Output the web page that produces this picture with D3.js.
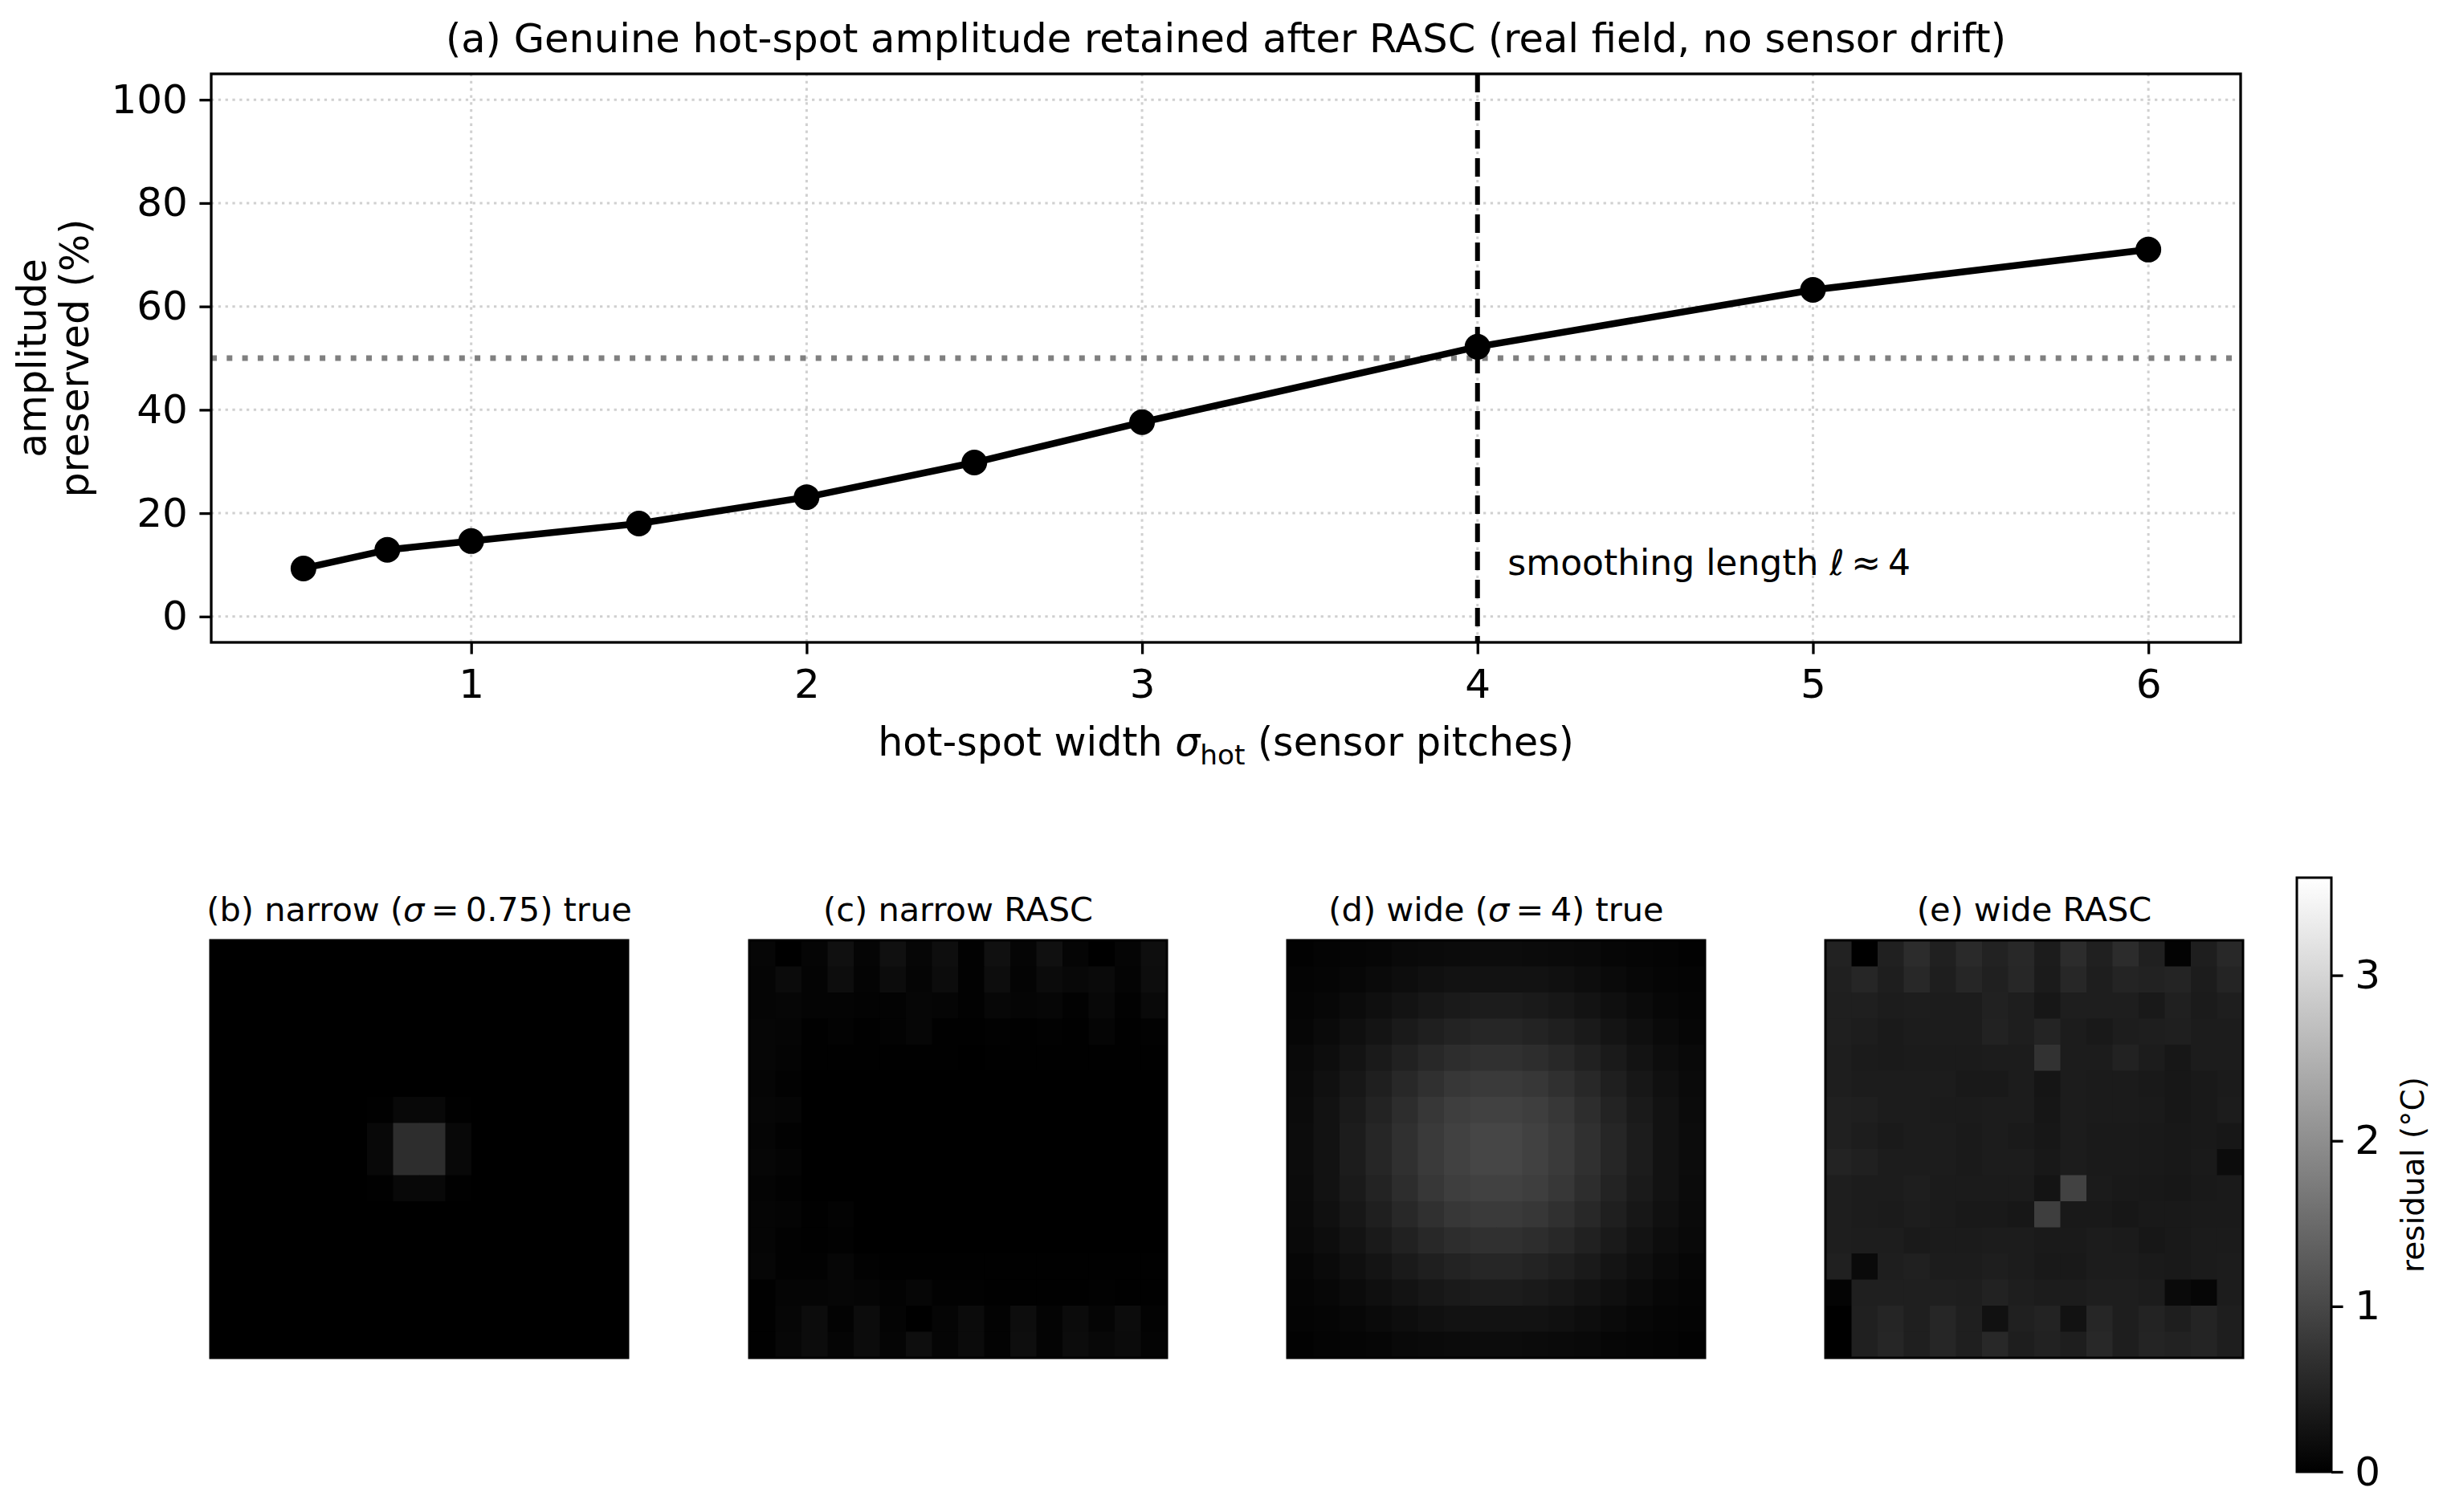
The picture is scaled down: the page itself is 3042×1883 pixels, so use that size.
<!DOCTYPE html>
<html>
<head>
<meta charset="utf-8">
<script src="https://cdn.jsdelivr.net/npm/d3@7"></script>
<style>
body { margin: 0; background: #fff; }
text { font-family: "DejaVu Sans", sans-serif; fill: #000; }
</style>
</head>
<body>
<svg id="fig" width="3042" height="1883"></svg>
<script>
// ---- panel (a) data ----
const sigma_hot = [0.5, 0.75, 1, 1.5, 2, 2.5, 3, 4, 5, 6]
const amplitude_pct = [9.3, 12.9, 14.6, 18.0, 23.1, 29.8, 37.6, 52.2, 63.2, 71.0]
const x_ticks = [1, 2, 3, 4, 5, 6]
const y_ticks = [0, 20, 40, 60, 80, 100]
const half_line = 50
const smoothing_length = 4

// ---- heatmap data (residual, °C), rows top to bottom ----
const cbar_ticks = [0, 1, 2, 3]
const cbar_max = 3.59
const panel_titles = [
    [["(b) narrow ("], ["σ", "i"], ["\u2009=\u20090.75) true"]],
    [["(c) narrow RASC"]],
    [["(d) wide ("], ["σ", "i"], ["\u2009=\u20094) true"]],
    [["(e) wide RASC"]]
]

const narrow_true = [
    [0,0,0,0,0,0,0,0,0,0,0,0,0,0,0,0],
    [0,0,0,0,0,0,0,0,0,0,0,0,0,0,0,0],
    [0,0,0,0,0,0,0,0,0,0,0,0,0,0,0,0],
    [0,0,0,0,0,0,0,0,0,0,0,0,0,0,0,0],
    [0,0,0,0,0,0,0,0,0,0,0,0,0,0,0,0],
    [0,0,0,0,0,0,0,0,0,0,0,0,0,0,0,0],
    [0,0,0,0,0,0,0.02,0.11,0.11,0.02,0,0,0,0,0,0],
    [0,0,0,0,0,0,0.11,0.64,0.64,0.11,0,0,0,0,0,0],
    [0,0,0,0,0,0,0.11,0.64,0.64,0.11,0,0,0,0,0,0],
    [0,0,0,0,0,0,0.02,0.11,0.11,0.02,0,0,0,0,0,0],
    [0,0,0,0,0,0,0,0,0,0,0,0,0,0,0,0],
    [0,0,0,0,0,0,0,0,0,0,0,0,0,0,0,0],
    [0,0,0,0,0,0,0,0,0,0,0,0,0,0,0,0],
    [0,0,0,0,0,0,0,0,0,0,0,0,0,0,0,0],
    [0,0,0,0,0,0,0,0,0,0,0,0,0,0,0,0],
    [0,0,0,0,0,0,0,0,0,0,0,0,0,0,0,0]
]

const narrow_rasc = [
    [0.08,0.00,0.07,0.23,0.07,0.23,0.08,0.20,0.03,0.23,0.07,0.23,0.07,0.00,0.07,0.20],
    [0.07,0.15,0.06,0.18,0.06,0.17,0.07,0.17,0.03,0.18,0.06,0.15,0.11,0.14,0.06,0.18],
    [0.07,0.08,0.06,0.06,0.04,0.04,0.08,0.07,0.03,0.10,0.07,0.08,0.03,0.11,0.03,0.13],
    [0.08,0.07,0.01,0.04,0.01,0.04,0.08,0.01,0.01,0.03,0.01,0.03,0.01,0.07,0.01,0.03],
    [0.08,0.06,0.01,0.01,0.01,0.01,0.01,0.01,0.00,0.01,0.01,0.01,0.01,0.01,0.01,0.01],
    [0.07,0.03,0.00,0.00,0.00,0.00,0.00,0.00,0.00,0.00,0.00,0.00,0.00,0.00,0.00,0.00],
    [0.08,0.07,0.00,0.00,0.00,0.00,0.00,0.00,0.00,0.00,0.00,0.00,0.00,0.00,0.00,0.00],
    [0.07,0.03,0.00,0.00,0.00,0.00,0.00,0.00,0.00,0.00,0.00,0.00,0.00,0.00,0.00,0.00],
    [0.08,0.06,0.00,0.00,0.00,0.00,0.00,0.00,0.00,0.00,0.00,0.00,0.00,0.00,0.00,0.00],
    [0.06,0.03,0.00,0.00,0.00,0.00,0.00,0.00,0.00,0.00,0.00,0.00,0.00,0.00,0.00,0.00],
    [0.07,0.06,0.01,0.04,0.00,0.00,0.00,0.00,0.00,0.00,0.00,0.00,0.00,0.00,0.00,0.00],
    [0.07,0.03,0.01,0.03,0.00,0.00,0.00,0.00,0.00,0.00,0.00,0.00,0.00,0.00,0.00,0.00],
    [0.08,0.03,0.03,0.08,0.03,0.01,0.01,0.01,0.01,0.01,0.01,0.01,0.01,0.01,0.01,0.01],
    [0.01,0.07,0.07,0.08,0.07,0.04,0.08,0.03,0.03,0.01,0.01,0.01,0.01,0.03,0.01,0.01],
    [0.01,0.08,0.17,0.04,0.17,0.06,0.00,0.07,0.15,0.04,0.18,0.06,0.15,0.07,0.17,0.04],
    [0.01,0.10,0.17,0.07,0.17,0.07,0.20,0.07,0.15,0.04,0.20,0.06,0.17,0.11,0.15,0.06]
]

const wide_true = [
    [0.03,0.05,0.07,0.09,0.12,0.14,0.16,0.17,0.17,0.16,0.14,0.12,0.09,0.07,0.05,0.03],
    [0.05,0.07,0.10,0.14,0.18,0.22,0.25,0.26,0.26,0.25,0.22,0.18,0.14,0.10,0.07,0.05],
    [0.07,0.10,0.15,0.21,0.27,0.32,0.36,0.39,0.39,0.36,0.32,0.27,0.21,0.15,0.10,0.07],
    [0.09,0.14,0.21,0.28,0.36,0.44,0.49,0.53,0.53,0.49,0.44,0.36,0.28,0.21,0.14,0.09],
    [0.12,0.18,0.27,0.36,0.47,0.56,0.64,0.68,0.68,0.64,0.56,0.47,0.36,0.27,0.18,0.12],
    [0.14,0.22,0.32,0.44,0.56,0.68,0.77,0.82,0.82,0.77,0.68,0.56,0.44,0.32,0.22,0.14],
    [0.16,0.25,0.36,0.49,0.64,0.77,0.87,0.92,0.92,0.87,0.77,0.64,0.49,0.36,0.25,0.16],
    [0.17,0.26,0.39,0.53,0.68,0.82,0.92,0.98,0.98,0.92,0.82,0.68,0.53,0.39,0.26,0.17],
    [0.17,0.26,0.39,0.53,0.68,0.82,0.92,0.98,0.98,0.92,0.82,0.68,0.53,0.39,0.26,0.17],
    [0.16,0.25,0.36,0.49,0.64,0.77,0.87,0.92,0.92,0.87,0.77,0.64,0.49,0.36,0.25,0.16],
    [0.14,0.22,0.32,0.44,0.56,0.68,0.77,0.82,0.82,0.77,0.68,0.56,0.44,0.32,0.22,0.14],
    [0.12,0.18,0.27,0.36,0.47,0.56,0.64,0.68,0.68,0.64,0.56,0.47,0.36,0.27,0.18,0.12],
    [0.09,0.14,0.21,0.28,0.36,0.44,0.49,0.53,0.53,0.49,0.44,0.36,0.28,0.21,0.14,0.09],
    [0.07,0.10,0.15,0.21,0.27,0.32,0.36,0.39,0.39,0.36,0.32,0.27,0.21,0.15,0.10,0.07],
    [0.05,0.07,0.10,0.14,0.18,0.22,0.25,0.26,0.26,0.25,0.22,0.18,0.14,0.10,0.07,0.05],
    [0.03,0.05,0.07,0.09,0.12,0.14,0.16,0.17,0.17,0.16,0.14,0.12,0.09,0.07,0.05,0.03]
]

const wide_rasc = [
    [0.48,0.00,0.45,0.62,0.45,0.59,0.48,0.56,0.39,0.62,0.45,0.62,0.45,0.04,0.42,0.56],
    [0.45,0.54,0.42,0.56,0.42,0.54,0.45,0.55,0.38,0.55,0.42,0.51,0.48,0.51,0.39,0.51],
    [0.44,0.44,0.39,0.41,0.39,0.39,0.46,0.42,0.32,0.42,0.42,0.42,0.35,0.45,0.38,0.42],
    [0.44,0.41,0.37,0.39,0.39,0.39,0.48,0.42,0.51,0.39,0.35,0.41,0.42,0.44,0.39,0.39],
    [0.42,0.38,0.37,0.38,0.38,0.38,0.39,0.39,0.70,0.39,0.39,0.48,0.39,0.32,0.39,0.39],
    [0.42,0.39,0.39,0.39,0.39,0.35,0.35,0.39,0.30,0.39,0.38,0.38,0.35,0.32,0.35,0.38],
    [0.45,0.44,0.39,0.39,0.38,0.38,0.39,0.39,0.31,0.39,0.38,0.38,0.37,0.32,0.35,0.39],
    [0.45,0.41,0.37,0.39,0.39,0.37,0.39,0.37,0.32,0.39,0.37,0.37,0.35,0.34,0.35,0.32],
    [0.49,0.45,0.39,0.39,0.39,0.37,0.39,0.39,0.34,0.39,0.37,0.37,0.35,0.34,0.37,0.17],
    [0.42,0.39,0.39,0.42,0.38,0.38,0.38,0.38,0.28,0.93,0.38,0.35,0.34,0.32,0.35,0.37],
    [0.42,0.39,0.38,0.41,0.38,0.35,0.35,0.32,0.87,0.35,0.35,0.32,0.35,0.35,0.37,0.37],
    [0.42,0.41,0.41,0.37,0.38,0.38,0.39,0.39,0.37,0.37,0.39,0.38,0.32,0.35,0.38,0.38],
    [0.45,0.14,0.42,0.45,0.39,0.39,0.42,0.39,0.35,0.35,0.39,0.39,0.37,0.35,0.38,0.39],
    [0.06,0.44,0.44,0.44,0.44,0.42,0.48,0.42,0.39,0.39,0.42,0.42,0.39,0.14,0.08,0.39],
    [0.00,0.45,0.52,0.44,0.54,0.44,0.24,0.45,0.49,0.25,0.54,0.42,0.49,0.42,0.51,0.42],
    [0.00,0.45,0.54,0.44,0.54,0.44,0.56,0.42,0.48,0.42,0.56,0.42,0.51,0.48,0.51,0.42]
]

const panels = [narrow_true, narrow_rasc, wide_true, wide_rasc]

// ---- layout ----
const fs = 50
const tick_len = 14.6
const svg = d3.select("#fig")

// write text made of pieces: [string, style] with style "i" italic or "s" subscript
function rich(sel, parts, size) {
    let sub = false
    parts.forEach(p => {
        const t = sel.append("tspan").text(p[0])
        if (p[1] == "i") t.attr("font-style", "italic")
        if (p[1] == "s") {
            t.attr("font-size", size * 0.7).attr("dy", size * 0.22)
            sub = true
        } else if (sub) {
            t.attr("dy", -size * 0.22)
            sub = false
        }
    })
}

// ================= panel (a) =================
const ax = { left: 263, right: 2790, top: 92, bottom: 800 }
const x = d3.scaleLinear().domain([0.225, 6.275]).range([ax.left, ax.right])
const y = d3.scaleLinear().domain([-5, 105]).range([ax.bottom, ax.top])

const gA = svg.append("g")

// grid
gA.selectAll("line.gx").data(x_ticks).join("line")
    .attr("x1", d => x(d)).attr("x2", d => x(d))
    .attr("y1", ax.top).attr("y2", ax.bottom)
    .attr("stroke", "#d0d0d0").attr("stroke-width", 3).attr("stroke-dasharray", "3.3 5.5")
gA.selectAll("line.gy").data(y_ticks).join("line")
    .attr("x1", ax.left).attr("x2", ax.right)
    .attr("y1", d => y(d)).attr("y2", d => y(d))
    .attr("stroke", "#d0d0d0").attr("stroke-width", 3).attr("stroke-dasharray", "3.3 5.5")

// 50 % reference and smoothing length
gA.append("line")
    .attr("x1", ax.left).attr("x2", ax.right)
    .attr("y1", y(half_line)).attr("y2", y(half_line))
    .attr("stroke", "#808080").attr("stroke-width", 7).attr("stroke-dasharray", "7 12.3")
gA.append("line")
    .attr("x1", x(smoothing_length)).attr("x2", x(smoothing_length))
    .attr("y1", ax.top).attr("y2", ax.bottom)
    .attr("stroke", "#000").attr("stroke-width", 6).attr("stroke-dasharray", "23 12")

const annot = gA.append("text")
    .attr("x", x(smoothing_length + 0.09)).attr("y", y(8))
    .attr("font-size", 44)
rich(annot, [["smoothing length "], ["ℓ", "i"], ["\u2009≈\u20094"]], 44)

// series
const pts = sigma_hot.map((s, i) => [s, amplitude_pct[i]])
gA.append("path")
    .datum(pts)
    .attr("d", d3.line().x(d => x(d[0])).y(d => y(d[1])))
    .attr("fill", "none").attr("stroke", "#000").attr("stroke-width", 8.5)
    .attr("stroke-linejoin", "round")
gA.selectAll("circle").data(pts).join("circle")
    .attr("cx", d => x(d[0])).attr("cy", d => y(d[1])).attr("r", 16)
    .attr("fill", "#000")

// axes
const xAxis = gA.append("g").attr("transform", "translate(0," + ax.bottom + ")")
    .call(d3.axisBottom(x).tickValues(x_ticks).tickFormat(d3.format("d")).tickSize(tick_len).tickPadding(19))
const yAxis = gA.append("g").attr("transform", "translate(" + ax.left + ",0)")
    .call(d3.axisLeft(y).tickValues(y_ticks).tickFormat(d3.format("d")).tickSize(tick_len).tickPadding(14.6))
;[xAxis, yAxis].forEach(a => {
    a.select(".domain").remove()
    a.selectAll("line").attr("stroke", "#000").attr("stroke-width", 3.3)
    a.selectAll("text").attr("font-size", fs).attr("font-family", "DejaVu Sans").attr("fill", "#000")
})

gA.append("rect")
    .attr("x", ax.left).attr("y", ax.top)
    .attr("width", ax.right - ax.left).attr("height", ax.bottom - ax.top)
    .attr("fill", "none").attr("stroke", "#000").attr("stroke-width", 3.3)

gA.append("text")
    .attr("x", (ax.left + ax.right) / 2).attr("y", 65)
    .attr("text-anchor", "middle").attr("font-size", 49.5)
    .text("(a) Genuine hot-spot amplitude retained after RASC (real field, no sensor drift)")

const xl = gA.append("text")
    .attr("x", (ax.left + ax.right) / 2).attr("y", 941)
    .attr("text-anchor", "middle").attr("font-size", 49)
rich(xl, [["hot-spot width "], ["σ", "i"], ["hot", "s"], [" (sensor pitches)"]], 49)

const ymid = (ax.top + ax.bottom) / 2
gA.append("text")
    .attr("transform", "translate(57," + ymid + ") rotate(-90)")
    .attr("text-anchor", "middle").attr("font-size", 49)
    .text("amplitude")
gA.append("text")
    .attr("transform", "translate(110," + ymid + ") rotate(-90)")
    .attr("text-anchor", "middle").attr("font-size", 49)
    .text("preserved (%)")

// ================= panels (b)-(e) =================
const color = d3.scaleLinear().domain([0, cbar_max]).range(["#000", "#fff"]).clamp(true)
const p_left = [262, 933, 1603, 2273]
const p_top = 1171
const p_size = 520

panels.forEach((grid, k) => {
    const bx = d3.scaleBand().domain(d3.range(16)).range([p_left[k], p_left[k] + p_size])
    const by = d3.scaleBand().domain(d3.range(16)).range([p_top, p_top + p_size])
    const g = svg.append("g")
    const cells = []
    grid.forEach((row, r) => row.forEach((v, c) => cells.push({ r: r, c: c, v: v })))
    g.selectAll("rect.cell").data(cells).join("rect")
        .attr("x", d => bx(d.c)).attr("y", d => by(d.r))
        .attr("width", bx.bandwidth() + 0.5).attr("height", by.bandwidth() + 0.5)
        .attr("fill", d => color(d.v))
    g.append("rect")
        .attr("x", p_left[k]).attr("y", p_top).attr("width", p_size).attr("height", p_size)
        .attr("fill", "none").attr("stroke", "#000").attr("stroke-width", 3)
    const t = g.append("text")
        .attr("x", p_left[k] + p_size / 2).attr("y", 1147)
        .attr("text-anchor", "middle").attr("font-size", 41.5)
    rich(t, panel_titles[k], 41.5)
})

// colorbar
const cb = { left: 2860, right: 2903, top: 1093, bottom: 1833 }
const cy = d3.scaleLinear().domain([0, cbar_max]).range([cb.bottom, cb.top])
const grad = svg.append("defs").append("linearGradient")
    .attr("id", "cbgrad").attr("x1", 0).attr("x2", 0).attr("y1", 1).attr("y2", 0)
d3.range(0, 1.0001, 0.1).forEach(f => {
    grad.append("stop").attr("offset", f).attr("stop-color", color(f * cbar_max))
})
svg.append("rect")
    .attr("x", cb.left).attr("y", cb.top)
    .attr("width", cb.right - cb.left).attr("height", cb.bottom - cb.top)
    .attr("fill", "url(#cbgrad)").attr("stroke", "#000").attr("stroke-width", 3)
const cAxis = svg.append("g").attr("transform", "translate(" + cb.right + ",0)")
    .call(d3.axisRight(cy).tickValues(cbar_ticks).tickFormat(d3.format("d")).tickSize(tick_len).tickPadding(14.6))
cAxis.select(".domain").remove()
cAxis.selectAll("line").attr("stroke", "#000").attr("stroke-width", 3.3)
cAxis.selectAll("text").attr("font-size", fs).attr("font-family", "DejaVu Sans").attr("fill", "#000")

svg.append("text")
    .attr("transform", "translate(3018," + (cb.top + cb.bottom) / 2 + ") rotate(-90)")
    .attr("text-anchor", "middle").attr("font-size", 39)
    .text("residual (°C)")
</script>
</body>
</html>
